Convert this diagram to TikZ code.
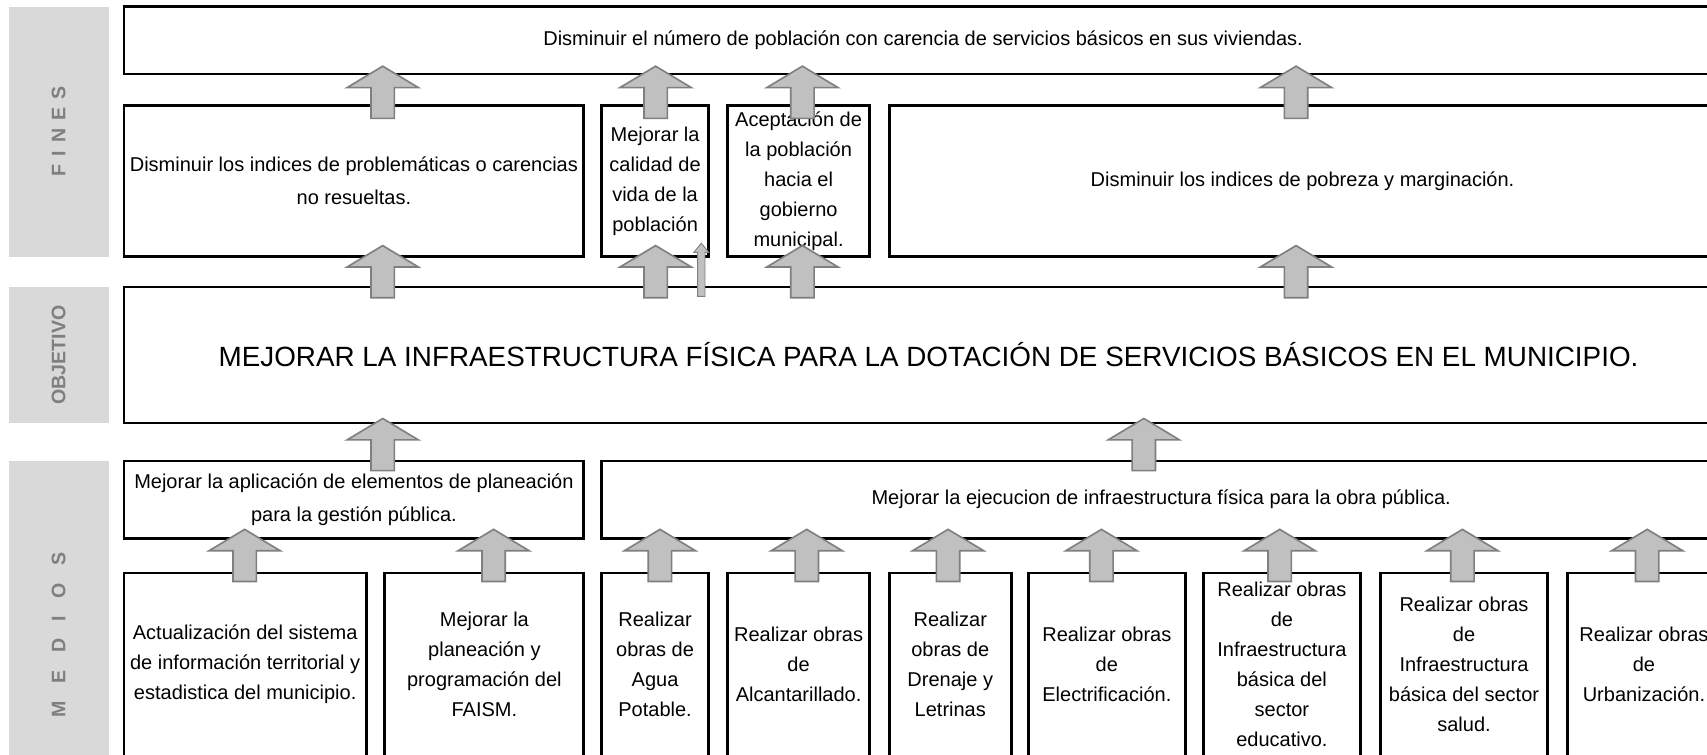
\documentclass[tikz,border=0pt]{standalone}
\usepackage{fontspec}
\setmainfont{Liberation Sans}
\usetikzlibrary{shapes.arrows}
\definecolor{grisfondo}{HTML}{D9D9D9}
\definecolor{gristexto}{HTML}{7F7F7F}
\definecolor{grisflecha}{HTML}{C0C0C0}
\definecolor{bordeflecha}{HTML}{7F7F7F}
\tikzstyle{caja}=[draw, line width=2.6pt, inner sep=0pt, outer sep=0pt,
  anchor=north west, align=center, font=\fontsize{18.4}{27.5}\selectfont]
\tikzstyle{obra}=[caja, minimum height=190pt]
\tikzstyle{texto}=[align=center, inner sep=0pt, font=\fontsize{18.4}{27.5}\selectfont]
\tikzstyle{etiqueta}=[fill=grisfondo, inner sep=0pt, outer sep=0pt,
  anchor=north west, minimum width=92pt]
\tikzstyle{rotulo}=[rotate=90, text=gristexto, font=\fontsize{18}{20}\selectfont\bfseries]
\tikzstyle{flecha}=[single arrow, draw=bordeflecha, fill=grisflecha, line width=1.5pt,
  rotate=90, anchor=tip, minimum height=48pt, inner xsep=0pt, inner ysep=10pt,
  single arrow head extend=22pt, single arrow tip angle=118]
\tikzstyle{flechita}=[flecha, line width=0.8pt, minimum height=49pt, inner ysep=3pt,
  single arrow head extend=3.5pt, single arrow tip angle=78]
\newcommand{\obra}[4]{%
  \node (#1) [obra, minimum width=#3pt] at (#2,527) {};
  \node (#1t) [texto] at ([yshift=-84pt]#1.north) {#4};}

\begin{document}
\begin{tikzpicture}[x=1pt,y=-1pt]
  \clip (0,0) rectangle (1570,694);
  \fill[white] (0,0) rectangle (1570,694);

  % columna de rotulos
  \node (gfines) [etiqueta, minimum height=230pt] at (8,6) {};
  \node [rotulo] at (gfines.center)
    {F\hspace{7.5pt}I\hspace{7.5pt}N\hspace{7.5pt}E\hspace{7.5pt}S};
  \node (gobjetivo) [etiqueta, minimum height=125pt] at (8,264) {};
  \node [rotulo] at (gobjetivo.center) {OBJETIVO};
  \node (gmedios) [etiqueta, minimum height=320pt] at (8,424) {};
  \node [rotulo] at (gmedios.center)
    {M\hspace{16pt}E\hspace{16pt}D\hspace{16pt}I\hspace{16pt}O\hspace{16pt}S};

  % fines
  \path (114,6) node (poblacion) [caja, minimum width=1470pt, minimum height=62pt]
    {Disminuir el número de población con carencia de servicios básicos en sus viviendas.};
  \path (114,97) node (problematicas) [caja, minimum width=423pt, minimum height=139pt]
    {Disminuir los indices de problemáticas o carencias\\[3pt]no resueltas.};
  \path (problematicas.north east)+(16,0) node (calidad) [caja, minimum width=99pt, minimum height=139pt]
    {Mejorar la\\calidad de\\vida de la\\población};
  \path (calidad.north east)+(17,0) node (aceptacion) [caja, minimum width=131pt, minimum height=139pt]
    {Aceptación de\\la población\\hacia el\\gobierno\\municipal.};
  \path (aceptacion.north east)+(18,0) node (pobreza) [caja, minimum width=760pt, minimum height=139pt]
    {Disminuir los indices de pobreza y marginación.};

  % objetivo
  \path (114,264) node (objetivo) [caja, minimum width=1480pt, minimum height=125pt,
    font=\fontsize{25.6}{30}\selectfont]
    {MEJORAR LA INFRAESTRUCTURA FÍSICA PARA LA DOTACIÓN DE SERVICIOS BÁSICOS EN EL MUNICIPIO.};

  % medios
  \path (114,424) node (planeacion) [caja, minimum width=423pt, minimum height=71pt]
    {Mejorar la aplicación de elementos de planeación\\[3pt]para la gestión pública.};
  \path (planeacion.north east)+(16,0) node (ejecucion) [caja, minimum width=1030pt, minimum height=71pt]
    {Mejorar la ejecucion de infraestructura física para la obra pública.};

  \obra{sistema}{114}{223}{Actualización del sistema\\de información territorial y\\estadistica del municipio.}
  \obra{faism}{354}{183}{Mejorar la\\planeación y\\programación del\\FAISM.}
  \obra{agua}{553}{99}{Realizar\\obras de\\Agua\\Potable.}
  \obra{alcantarillado}{669}{131}{Realizar obras\\de\\Alcantarillado.}
  \obra{drenaje}{818}{112}{Realizar\\obras de\\Drenaje y\\Letrinas}
  \obra{electrificacion}{946}{144}{Realizar obras\\de\\Electrificación.}
  \obra{educativo}{1107}{144}{Realizar obras\\de\\Infraestructura\\básica del\\sector\\educativo.}
  \obra{salud}{1270}{153}{Realizar obras\\de\\Infraestructura\\básica del sector\\salud.}
  \obra{urbanizacion}{1442}{140}{Realizar obras\\de\\Urbanización.}

  % flechas de bloque
  \foreach \x/\y in {352/60, 603/60, 738/60, 1192/60,
                     352/225, 603/225, 738/225, 1192/225,
                     352/384, 1052/384,
                     225/486, 454/486, 607/486, 742/486, 872/486,
                     1013/486, 1177/486, 1345/486, 1515/486}
    \node (fl\x-\y) [flecha] at (\x,\y) {};
  \node (flcalidad) [flechita] at (645,223) {};
\end{tikzpicture}
\end{document}
